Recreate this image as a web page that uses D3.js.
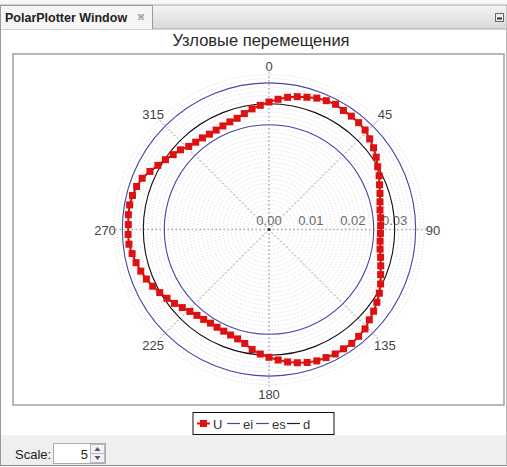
<!DOCTYPE html>
<html lang="ru">
<head>
<meta charset="utf-8">
<title>PolarPlotter Window</title>
<script src="https://d3js.org/d3.v7.min.js"></script>
<style>
  html, body { margin: 0; padding: 0; background: #fff; }
  svg { display: block; font-family: "Liberation Sans", Arial, sans-serif; }
</style>
</head>
<body>
<svg id="chart" width="507" height="467"></svg>
<script>
// angles of the nodes (degrees, clockwise from top)
var angles = d3.range(0, 360, 4);
// nodal displacement U
var U = [0.03043, 0.03115, 0.03186, 0.03241, 0.03284, 0.03337, 0.03365, 0.03384, 0.03351, 0.03344,
         0.03329, 0.03301, 0.03234, 0.03167, 0.03086, 0.02995, 0.02924, 0.02845, 0.02785, 0.02730,
         0.02690, 0.02680, 0.02666, 0.02661, 0.02666, 0.02692, 0.02745, 0.02804, 0.02874, 0.02964,
         0.03041, 0.03105, 0.03169, 0.03222, 0.03298, 0.03329, 0.03360, 0.03358, 0.03365, 0.03346,
         0.03337, 0.03301, 0.03251, 0.03193, 0.03122, 0.03050, 0.02979, 0.02893, 0.02780, 0.02716,
         0.02680, 0.02656, 0.02642, 0.02635, 0.02652, 0.02675, 0.02718, 0.02785, 0.02864, 0.02936,
         0.03012, 0.03088, 0.03158, 0.03217, 0.03270, 0.03317, 0.03360, 0.03365, 0.03360, 0.03375,
         0.03377, 0.03358, 0.03322, 0.03265, 0.03162, 0.03062, 0.02981, 0.02902, 0.02842, 0.02757,
         0.02721, 0.02702, 0.02683, 0.02687, 0.02706, 0.02733, 0.02761, 0.02828, 0.02907, 0.02971];
// limit circles
var ei = 0.025, es = 0.035, dNom = 0.03;
var radialTicks = [0.00, 0.01, 0.02, 0.03];
var angleTicks = [0, 45, 90, 135, 180, 225, 270, 315];
var rMax = 0.0375;

var svg = d3.select("#chart");
var W = 507, H = 467;
var cx = 269, cy = 229.5;

// ---- window chrome ----
var grad = svg.append("defs").append("linearGradient").attr("id", "bar").attr("x1", 0).attr("y1", 0).attr("x2", 0).attr("y2", 1);
grad.append("stop").attr("offset", "0%").attr("stop-color", "#f4f4f4");
grad.append("stop").attr("offset", "100%").attr("stop-color", "#d9d9d9");

svg.append("rect").attr("x", 0).attr("y", 0).attr("width", W).attr("height", 5).attr("fill", "#f7f7f7");
svg.append("rect").attr("x", 0).attr("y", 5).attr("width", W).attr("height", 24).attr("fill", "url(#bar)")
  .attr("stroke", "#a8a8a8");
svg.append("path").attr("d", "M0.5,29 V5.5 H152.5 V29").attr("fill", "#f5f5f5").attr("stroke", "#9a9a9a");
svg.append("text").attr("x", 5).attr("y", 22).attr("font-size", 12.5).attr("font-weight", "bold")
  .attr("fill", "#222").text("PolarPlotter Window");
svg.append("text").attr("x", 137).attr("y", 20).attr("font-size", 8).attr("fill", "#888").text("⌘");
svg.append("rect").attr("x", 495.5).attr("y", 13.5).attr("width", 8).attr("height", 8)
  .attr("fill", "#eee").attr("stroke", "#666");
svg.append("line").attr("x1", 497).attr("x2", 502).attr("y1", 18.5).attr("y2", 18.5).attr("stroke", "#333").attr("stroke-width", 2);
svg.append("line").attr("x1", 0.5).attr("x2", 0.5).attr("y1", 29).attr("y2", 466).attr("stroke", "#999");
svg.append("line").attr("x1", 506.5).attr("x2", 506.5).attr("y1", 29).attr("y2", 466).attr("stroke", "#bbb");

// title
svg.append("text").attr("x", 261).attr("y", 46).attr("text-anchor", "middle")
  .attr("font-size", 16.5).attr("fill", "#2a2a2a").text("Узловые перемещения");

// plot frame
svg.append("rect").attr("x", 13).attr("y", 54).attr("width", 491).attr("height", 351)
  .attr("fill", "#fff").attr("stroke", "#a0a0a0").attr("stroke-width", 1.5);

// ---- polar plot ----
var r = d3.scaleLinear().domain([0, rMax]).range([0, rMax * 4190]);
var rad = function(a) { return a * Math.PI / 180; };
var g = svg.append("g").attr("transform", "translate(" + cx + "," + cy + ")");

// fine grid rings
g.append("g").selectAll("circle")
  .data(d3.range(1, 38).map(function(i) { return i * 0.001; }))
  .join("circle")
  .attr("r", function(d) { return r(d); })
  .attr("fill", "none").attr("stroke", "#c4c4c4").attr("stroke-width", 0.7)
  .attr("stroke-dasharray", "1,2");

// spokes
g.append("g").selectAll("line")
  .data(angleTicks)
  .join("line")
  .attr("x1", 0).attr("y1", 0)
  .attr("x2", function(a) { return Math.sin(rad(a)) * r(rMax); })
  .attr("y2", function(a) { return -Math.cos(rad(a)) * r(rMax); })
  .attr("stroke", function(a) { return a % 90 === 0 ? "#a8a8c8" : "#777"; })
  .attr("stroke-width", function(a) { return a % 90 === 0 ? 1.6 : 0.8; })
  .attr("stroke-dasharray", function(a) { return a % 90 === 0 ? "1.5,2.5" : "2,2"; });

g.append("circle").attr("r", 1.5).attr("fill", "#333");

// radial tick labels
g.append("g").selectAll("text")
  .data(radialTicks)
  .join("text")
  .attr("x", function(d) { return r(d); })
  .attr("y", -5)
  .attr("text-anchor", "middle")
  .attr("font-size", 13).attr("fill", "#6a6a6a")
  .text(function(d) { return d3.format(".2f")(d); });

// angle labels
g.append("g").selectAll("text")
  .data(angleTicks)
  .join("text")
  .attr("x", function(a) { return Math.sin(rad(a)) * 164; })
  .attr("y", function(a) { return -Math.cos(rad(a)) * 164 + 5; })
  .attr("text-anchor", "middle")
  .attr("font-size", 13).attr("fill", "#444")
  .text(function(a) { return a; });

// limit circles
g.append("circle").attr("r", r(es)).attr("fill", "none").attr("stroke", "#4848a8").attr("stroke-width", 1.1);
g.append("circle").attr("r", r(ei)).attr("fill", "none").attr("stroke", "#4848a8").attr("stroke-width", 1.1);
g.append("circle").attr("r", r(dNom)).attr("fill", "none").attr("stroke", "#111").attr("stroke-width", 1.1);

// U series
var pts = angles.map(function(a, i) { return { a: a, v: U[i] }; });
g.append("path")
  .datum(pts)
  .attr("fill", "none").attr("stroke", "#d81010").attr("stroke-width", 2)
  .attr("d", d3.lineRadial()
    .angle(function(d) { return rad(d.a); })
    .radius(function(d) { return r(d.v); })
    .curve(d3.curveLinearClosed));
g.append("g").selectAll("rect")
  .data(pts)
  .join("rect")
  .attr("x", function(d) { return Math.sin(rad(d.a)) * r(d.v) - 3.5; })
  .attr("y", function(d) { return -Math.cos(rad(d.a)) * r(d.v) - 3.5; })
  .attr("width", 7).attr("height", 7)
  .attr("fill", "#dd1111");

// ---- legend ----
var lg = svg.append("g");
lg.append("rect").attr("x", 193).attr("y", 412.5).attr("width", 141).attr("height", 22)
  .attr("fill", "#fff").attr("stroke", "#111");
var items = [
  { name: "U", color: "#dd1111", x: 197, marker: true },
  { name: "ei", color: "#4848a8", x: 227 },
  { name: "es", color: "#4848a8", x: 256 },
  { name: "d", color: "#222", x: 287 }
];
items.forEach(function(it) {
  lg.append("line").attr("x1", it.x).attr("x2", it.x + 13).attr("y1", 423.5).attr("y2", 423.5)
    .attr("stroke", it.color).attr("stroke-width", it.marker ? 2 : 1.2);
  if (it.marker) lg.append("rect").attr("x", it.x + 3).attr("y", 420).attr("width", 7).attr("height", 7).attr("fill", it.color);
  lg.append("text").attr("x", it.x + 16).attr("y", 428.5).attr("font-size", 13).attr("fill", "#333").text(it.name);
});

// ---- bottom panel ----
svg.append("rect").attr("x", 1).attr("y", 435).attr("width", 505).attr("height", 30).attr("fill", "#efefef");
svg.append("line").attr("x1", 0).attr("x2", W).attr("y1", 465.5).attr("y2", 465.5).attr("stroke", "#888");
svg.append("text").attr("x", 15).attr("y", 459).attr("font-size", 13).attr("fill", "#222").text("Scale:");
svg.append("rect").attr("x", 53.5).attr("y", 443.5).attr("width", 52).attr("height", 20)
  .attr("fill", "#fff").attr("stroke", "#aaa");
svg.append("text").attr("x", 88).attr("y", 459).attr("text-anchor", "end").attr("font-size", 13).attr("fill", "#222").text("5");
svg.append("rect").attr("x", 90.5).attr("y", 444.5).attr("width", 14).attr("height", 9).attr("fill", "#f2f2f2").attr("stroke", "#bbb");
svg.append("rect").attr("x", 90.5).attr("y", 453.5).attr("width", 14).attr("height", 9).attr("fill", "#f2f2f2").attr("stroke", "#bbb");
svg.append("path").attr("d", "M94.5,451 L97.5,447 L100.5,451 Z").attr("fill", "#557");
svg.append("path").attr("d", "M94.5,456 L97.5,460 L100.5,456 Z").attr("fill", "#557");
</script>
</body>
</html>
